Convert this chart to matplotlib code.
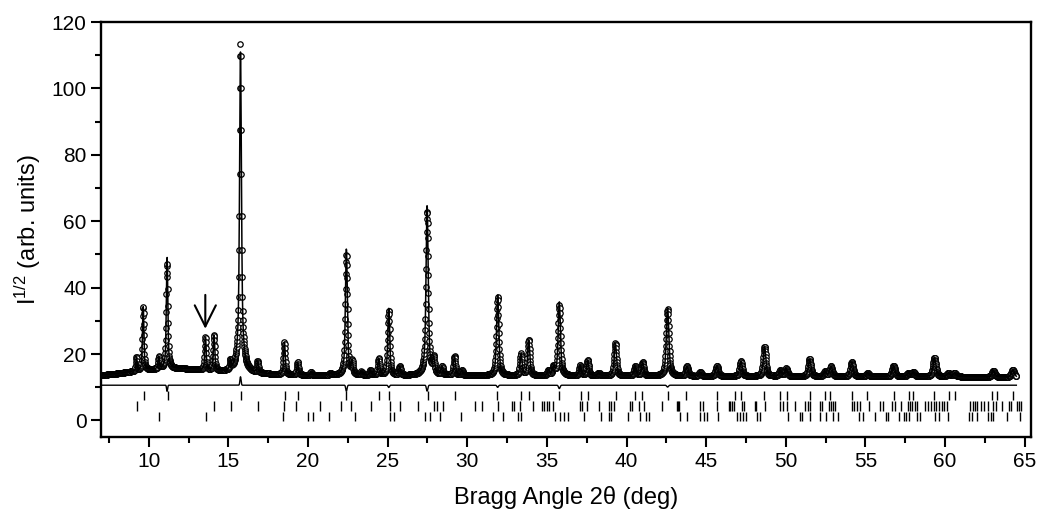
import numpy as np
import matplotlib
matplotlib.use("Agg")
import matplotlib.pyplot as plt
from matplotlib.ticker import MultipleLocator

plt.rcParams['font.family'] = ['Liberation Sans', 'DejaVu Sans']
plt.rcParams['mathtext.fontset'] = 'custom'
plt.rcParams['mathtext.rm'] = 'Liberation Sans'
plt.rcParams['mathtext.it'] = 'Liberation Sans:italic'

# observed reflections: 2theta (deg) and peak top in I^1/2 units
peak_pos = [9.23, 9.65, 10.63, 11.15, 13.56, 14.10, 15.13, 15.76, 16.84, 18.52,
            19.35, 20.19, 21.40, 22.41, 22.77, 23.35, 23.92, 24.44, 25.07, 25.76,
            27.48, 27.89, 28.42, 29.20, 29.67, 31.91, 33.38, 33.86, 35.11, 35.42,
            35.78, 37.10, 37.56, 38.25, 39.30, 40.55, 41.01, 42.58, 43.80, 44.63,
            45.68, 47.19, 48.67, 49.66, 50.03, 51.50, 52.48, 52.84, 54.15, 55.15,
            56.77, 57.71, 58.02, 59.34, 60.22, 60.60, 63.04, 64.26]
peak_top = [19.0, 34.4, 19.0, 47.4, 25.0, 25.6, 17.4, 113.5, 17.5, 23.5,
            17.5, 14.5, 14.2, 49.9, 17.5, 14.5, 15.0, 18.5, 33.1, 16.1,
            63.0, 18.3, 16.0, 19.3, 15.0, 37.2, 20.0, 24.2, 15.0, 16.0,
            34.7, 16.5, 18.1, 14.3, 23.2, 16.3, 17.5, 33.4, 16.3, 14.5,
            16.5, 17.8, 22.2, 15.0, 15.6, 18.5, 14.7, 16.3, 17.6, 14.2,
            16.5, 14.3, 14.5, 18.9, 14.3, 14.3, 15.0, 15.3]

# refined background (I^1/2 units)
bg_x = [7, 8, 9, 10, 11, 12, 13, 14, 15, 16, 17, 18, 19, 20, 25, 30, 40, 50, 60, 64.5]
bg_y = [13.6, 14.1, 14.7, 15.2, 15.6, 15.6, 15.3, 14.9, 14.5, 14.2, 14.0, 13.8,
        13.7, 13.6, 13.5, 13.5, 13.4, 13.3, 13.2, 13.0]

# calc/obs intensity ratio for the worst-fitted reflections
misfit_pos = [11.15, 15.76, 22.41, 25.07, 27.48, 31.91, 35.78, 42.58]
misfit_ratio = [1.09, 0.955, 1.08, 1.05, 1.06, 1.04, 1.07, 1.04]

# Bragg positions of the three phases
phase1 = [9.69, 11.19, 15.78, 18.56, 19.38, 22.41, 24.48, 25.11, 27.54, 29.25,
          31.87, 33.38, 33.86, 35.77, 37.15, 37.58, 39.36, 40.55, 41.0, 42.6,
          43.73, 45.68, 46.83, 47.19, 48.65, 49.66, 50.07, 51.5, 52.48, 52.8,
          54.19, 55.1, 56.77, 57.71, 58.02, 59.34, 60.28, 60.6, 62.94, 63.26, 64.26]
phase2 = [9.27, 14.12, 15.15, 16.89, 18.52, 19.27, 20.78, 22.08, 22.72, 23.96,
          25.13, 25.76, 26.89, 27.89, 28.1, 28.45, 30.51, 30.93, 31.91, 32.81,
          32.91, 33.33, 34.13, 34.7, 34.84, 35.0, 35.12, 35.4, 37.06, 37.18,
          37.52, 38.25, 38.88, 39.03, 39.23, 40.24, 40.35, 40.76, 41.07, 42.23,
          43.17, 43.22, 43.27, 44.59, 44.8, 45.68, 46.42, 46.52, 46.62, 46.73,
          47.25, 47.39, 48.04, 48.15, 48.72, 49.66, 49.82, 50.07, 50.6, 51.22,
          51.38, 51.55, 52.12, 52.27, 52.7, 52.83, 52.96, 53.1, 54.15, 54.3,
          54.47, 54.67, 55.2, 55.93, 56.1, 56.67, 56.83, 57.23, 57.65, 57.8,
          57.95, 58.1, 58.23, 58.76, 58.95, 59.1, 59.28, 59.45, 59.62, 59.8,
          59.95, 60.1, 61.58, 61.73, 61.88, 62.03, 62.25, 62.47, 62.73, 63.04,
          63.21, 63.57, 63.99, 64.14, 64.5, 64.65, 64.8]
phase3 = [10.65, 13.58, 18.44, 20.0, 20.3, 21.32, 22.98, 25.13, 25.38, 27.37,
          27.64, 28.31, 29.63, 31.6, 32.22, 33.19, 33.4, 35.53, 35.8, 36.1,
          36.3, 37.31, 38.4, 38.92, 39.05, 40.07, 40.87, 41.24, 41.42, 43.34,
          43.8, 44.6, 44.84, 45.06, 45.72, 46.93, 47.12, 47.32, 47.52, 48.19,
          48.4, 50.11, 50.91, 51.02, 51.5, 52.12, 52.52, 52.96, 53.31, 54.63,
          54.88, 55.61, 56.29, 56.45, 57.08, 57.4, 57.52, 57.71, 58.24, 58.45,
          59.39, 59.63, 60.16, 61.48, 61.7, 62.0, 62.73, 62.87, 63.0, 63.88, 64.72]

tick_rows = [(phase1, 6.0, 8.9), (phase2, 2.8, 5.7), (phase3, -0.3, 2.6)]
diff_offset = 10.6


def pseudo_voigt(x, x0, fwhm, eta=0.5):
    g = np.exp(-4 * np.log(2) * ((x - x0) / fwhm) ** 2)
    lo = 1.0 / (1.0 + 4 * ((x - x0) / fwhm) ** 2)
    return eta * lo + (1 - eta) * g, g


def profiles():
    tt = np.arange(7.0, 64.48, 0.015)
    bg = np.interp(tt, bg_x, bg_y)
    i_obs = bg ** 2
    i_calc = bg ** 2
    for p, h in zip(peak_pos, peak_top):
        amp = h ** 2 - np.interp(p, bg_x, bg_y) ** 2
        fwhm = 0.07 + 0.0022 * p
        shape, core = pseudo_voigt(tt, p, fwhm)
        ratio = 1.0
        for mp, mr in zip(misfit_pos, misfit_ratio):
            if abs(mp - p) < 0.01:
                ratio = mr
        i_obs = i_obs + amp * shape
        # misfit only in the narrow core of the reflection
        i_calc = i_calc + amp * shape + (ratio - 1) * amp * core ** 2
    return tt, np.sqrt(i_obs), np.sqrt(i_calc)


def plot(ax):
    tt, yobs, ycalc = profiles()

    ax.plot(tt, yobs, 'o', ms=3.9, mfc='white', mec='black', mew=0.9, zorder=2)
    ax.plot(tt, ycalc, '-', color='black', lw=1.1, zorder=3)
    ax.plot(tt, yobs - ycalc + diff_offset, '-', color='black', lw=1.0)

    for pos, lo, hi in tick_rows:
        ax.vlines(pos, lo, hi, color='black', lw=1.0)

    ax.annotate('', xy=(13.55, 27.6), xytext=(13.55, 37.8),
                arrowprops=dict(arrowstyle='->', lw=1.5, mutation_scale=38,
                                color='black', shrinkA=0, shrinkB=0))

    ax.set_xlim(7.0, 65.4)
    ax.set_ylim(-5, 120)
    ax.xaxis.set_major_locator(MultipleLocator(5))
    ax.xaxis.set_minor_locator(MultipleLocator(2.5))
    ax.yaxis.set_major_locator(MultipleLocator(20))
    ax.yaxis.set_minor_locator(MultipleLocator(10))
    ax.set_xticks(np.arange(10, 66, 5))
    ax.tick_params(which='both', direction='out', width=1.5, labelsize=15,
                   top=False, right=False)
    ax.tick_params(which='major', length=7)
    ax.tick_params(which='minor', length=4.5)
    for s in ax.spines.values():
        s.set_linewidth(1.7)

    ax.set_xlabel(r'Bragg Angle 2θ (deg)', fontsize=17, labelpad=11)
    ax.set_ylabel(r'I$^{1/2}$ (arb. units)', fontsize=17, labelpad=6)


def main():
    fig = plt.figure(figsize=(10.37, 5.13), dpi=100)
    ax = fig.add_axes([101 / 1037, 76 / 513, 930 / 1037, 415 / 513])
    plot(ax)
    fig.savefig('out.png', dpi=100)


if __name__ == "__main__":
    main()
